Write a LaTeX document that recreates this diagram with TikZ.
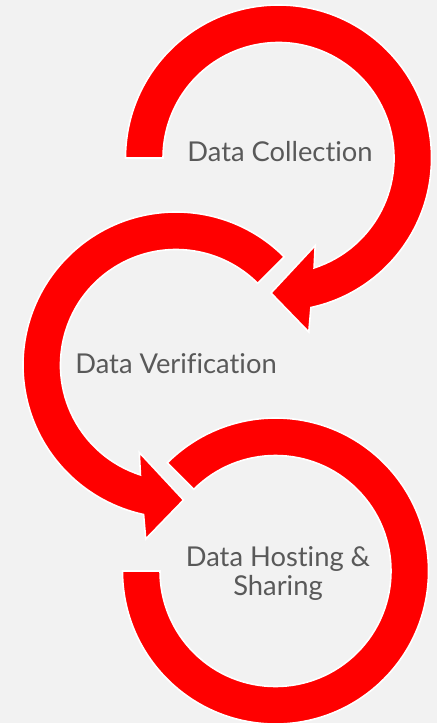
\documentclass[tikz,border=0pt]{standalone}
\usepackage{fontspec}
\setmainfont{Lato}[Ligatures=NoCommon]
\definecolor{pagegray}{RGB}{242,242,242}
\definecolor{ringred}{RGB}{255,0,0}
\definecolor{labelgray}{RGB}{89,89,89}
\tikzset{every picture/.style={line width=0.75pt}}
\tikzset{ringarrow/.style={fill=ringred, draw=white, line width=1.2pt, line join=miter},
         steplabel/.style={text=labelgray, font=\fontsize{20.5}{21.75}\selectfont}}

\begin{document}
\begin{tikzpicture}[x=0.75pt,y=0.75pt,yscale=-1,xscale=1]
%set diagram left start at 0, and has height of 723
\fill [pagegray] (0,0) rectangle (437,723);
\useasboundingbox (0,0) rectangle (437,723);

%Shape: Circular Arrow [id:collect] 
\draw [ringarrow] (125.5,158) arc [start angle=180, end angle=437.77, radius=153] -- (308.8,332) -- (271,293) -- (315.2,245.5) -- (314.06,267.9) arc [start angle=432.07, end angle=180, radius=115.5] -- cycle ;
%Shape: Circular Arrow [id:verify] 
\draw [ringarrow] (284.19,256.81) arc [start angle=-45, end angle=-257.77, radius=153] -- (145.7,539) -- (183.5,500) -- (139.3,452.5) -- (140.44,474.9) arc [start angle=-252.07, end angle=-45, radius=115.5] -- cycle ;
%Shape: Arc [id:host] 
\draw [ringarrow] (122.5,571) arc [start angle=180, end angle=-135, radius=153] -- (193.83,489.33) arc [start angle=-135, end angle=180, radius=115.5] -- cycle ;

% Text Node
\draw (280,161.5) node (collectlbl) [anchor=base][inner sep=0.75pt] [steplabel] [align=center] {Data Collection};
% Text Node
\draw (176,373) node (verifylbl) [anchor=base][inner sep=0.75pt] [steplabel] [align=center] {Data Verification};
% Text Node
\draw (278,574) node (hostlbl) [anchor=center][inner sep=0.75pt] [steplabel] [align=center] {Data Hosting \&\\Sharing};

\end{tikzpicture}
\end{document}
